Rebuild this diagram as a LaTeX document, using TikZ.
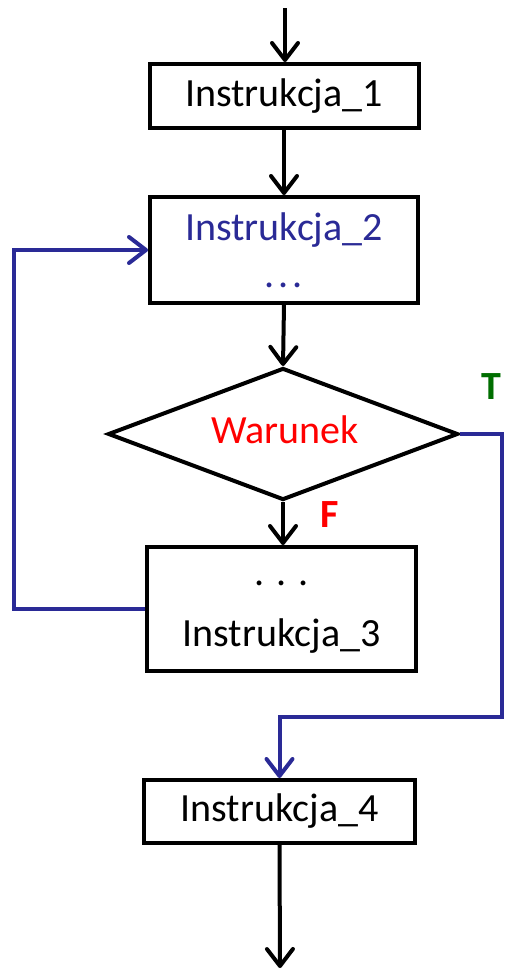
\documentclass[tikz,border=0pt]{standalone}
\usepackage{fontspec}
\setmainfont{Carlito}
\usetikzlibrary{arrows.meta,shapes.geometric}
\definecolor{loopblue}{RGB}{42,42,150}
\definecolor{truegreen}{RGB}{0,110,0}
\definecolor{condred}{RGB}{255,0,0}
\begin{document}
\begin{tikzpicture}[x=1pt,y=-1pt,
  every node/.style={font=\fontsize{40}{48}\selectfont},
  instr/.style={draw,line width=4pt,rectangle,inner sep=0pt,align=center},
  cond/.style={draw,line width=4pt,diamond,inner sep=0pt,minimum width=350pt,minimum height=132pt},
  flow/.style={line width=4pt,-{Straight Barb[length=17pt,width=26pt,line cap=round,line join=round]}},
  link/.style={line width=4pt,draw=loopblue},
  linkarrow/.style={link,-{Straight Barb[length=17pt,width=26pt,line cap=round,line join=round]}},
  tag/.style={font=\fontsize{40}{48}\selectfont\bfseries}]
\useasboundingbox (0,0) rectangle (504,970);

% instruction boxes and the condition
\node[instr,minimum width=269pt,minimum height=64pt] (i1) at (284,96) {Instrukcja\_1};
\node[instr,minimum width=268pt,minimum height=106pt,text=loopblue] (i2) at (284,250)
  {Instrukcja\_2\\[-1pt].\hspace{4pt}.\hspace{4pt}.};
\node[cond] (w) at (283,434) {};
\node[text=condred] (wt) at (285,430) {Warunek};
\node[instr,minimum width=269pt,minimum height=124pt] (i3) at (281.5,609)
  {\rule{0pt}{0pt}\\[-28pt].\hspace{12pt}.\hspace{12pt}.\\[13pt]Instrukcja\_3};
\node[instr,minimum width=271pt,minimum height=63pt] (i4) at (279.5,811.5) {Instrukcja\_4};

% branch labels
\node[tag,text=truegreen] (lt) at (491,387) {T};
\node[tag,text=condred] (lf) at (330,515) {F};

% helper points for the free ends and the bends
\coordinate (start) at (285,8);
\coordinate (stop) at (280,968);
\coordinate (loopx) at (14,0);
\coordinate (tx) at (502,0);
\coordinate (ty) at (0,717);

% main flow
\draw[flow] (start) -- (start |- i1.north);
\draw[flow] (i1.south) -- (i2.north);
\draw[flow] (i2.south) -- (w.north);
\draw[flow] (w.south) -- (w.south |- i3.north);
\draw[flow] (i4.south) -- (stop);

% loop back from Instrukcja_3 to Instrukcja_2
\draw[linkarrow,line join=miter] (i3.west) -- (loopx |- i3.west) -- (loopx |- i2.west) -- (i2.west);

% true branch to Instrukcja_4
\draw[linkarrow,line join=miter] (w.east) -- (tx |- w.east) -- (tx |- ty) -- (i4.north |- ty) -- (i4.north);
\end{tikzpicture}
\end{document}
